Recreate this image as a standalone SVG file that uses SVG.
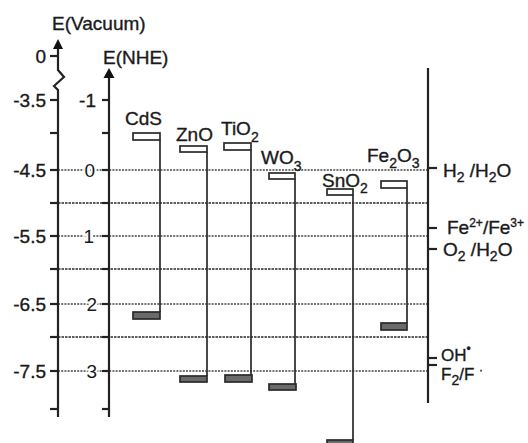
<svg xmlns="http://www.w3.org/2000/svg" width="528" height="443" viewBox="0 0 528 443">
<style>
  text { font-family: "Liberation Sans", Arial, sans-serif; font-size: 19px; fill: #1a1a1a; stroke: #1a1a1a; stroke-width: 0.35; }
  .sub { font-size: 14px; }
  .sup { font-size: 12px; }
  .ax { stroke: #222; stroke-width: 2.2; fill: none; }
  .tick { stroke: #222; stroke-width: 2.2; }
  .grid { stroke: #444; stroke-width: 1.4; stroke-dasharray: 2 1.2; fill: none; }
  .grid2 { stroke: #2a2a2a; stroke-width: 1.7; stroke-dasharray: 2.5 1; fill: none; }
  .cb { fill: #fff; stroke: #2a2a2a; stroke-width: 1.7; }
  .vb { fill: #6a6a6a; stroke: #2a2a2a; stroke-width: 1.7; }
  .conn { stroke: #2a2a2a; stroke-width: 1.7; fill: none; }
  .halo { stroke: #fff; stroke-width: 4; paint-order: stroke; }
  .arrow { fill: #111; }
  .small { font-size: 17px; }
</style>
<rect width="528" height="443" fill="#fff"/>

<g id="gridlines">
  <line class="grid" x1="58" y1="170" x2="428" y2="170"/>
  <line class="grid2" x1="58" y1="203" x2="428" y2="203"/>
  <line class="grid" x1="58" y1="236" x2="428" y2="236"/>
  <line class="grid2" x1="58" y1="269" x2="428" y2="269"/>
  <line class="grid" x1="58" y1="304" x2="428" y2="304"/>
  <line class="grid2" x1="58" y1="337" x2="428" y2="337"/>
  <line class="grid" x1="58" y1="371" x2="428" y2="371"/>
</g>

<g id="axis-vacuum">
  <path class="ax" d="M58,48 V70 L64,77 L54,86 L58,90 V417"/>
  <polygon class="arrow" points="58,39 53,49 63,49"/>
  <text x="52" y="30">E(Vacuum)</text>
  <g>
    <line class="tick" x1="50" y1="56" x2="58" y2="56"/>
    <line class="tick" x1="50" y1="100" x2="58" y2="100"/>
    <line class="tick" x1="50" y1="133" x2="58" y2="133"/>
    <line class="tick" x1="50" y1="170" x2="58" y2="170"/>
    <line class="tick" x1="50" y1="203" x2="58" y2="203"/>
    <line class="tick" x1="50" y1="236" x2="58" y2="236"/>
    <line class="tick" x1="50" y1="269" x2="58" y2="269"/>
    <line class="tick" x1="50" y1="304" x2="58" y2="304"/>
    <line class="tick" x1="50" y1="337" x2="58" y2="337"/>
    <line class="tick" x1="50" y1="371" x2="58" y2="371"/>
    <line class="tick" x1="50" y1="409" x2="58" y2="409"/>
  </g>
  <g text-anchor="end">
    <text x="46" y="63">0</text>
    <text x="46" y="107">-3.5</text>
    <text x="46" y="177">-4.5</text>
    <text x="46" y="243">-5.5</text>
    <text x="46" y="311">-6.5</text>
    <text x="46" y="378">-7.5</text>
  </g>
</g>

<g id="axis-nhe">
  <line class="ax" x1="109" y1="76" x2="109" y2="417"/>
  <polygon class="arrow" points="109,68 103.5,78 114.5,78"/>
  <text x="103" y="64">E(NHE)</text>
  <g>
    <line class="tick" x1="102" y1="100" x2="109" y2="100"/>
    <line class="tick" x1="102" y1="133" x2="109" y2="133"/>
    <line class="tick" x1="102" y1="170" x2="109" y2="170"/>
    <line class="tick" x1="102" y1="203" x2="109" y2="203"/>
    <line class="tick" x1="102" y1="236" x2="109" y2="236"/>
    <line class="tick" x1="102" y1="269" x2="109" y2="269"/>
    <line class="tick" x1="102" y1="304" x2="109" y2="304"/>
    <line class="tick" x1="102" y1="337" x2="109" y2="337"/>
    <line class="tick" x1="102" y1="371" x2="109" y2="371"/>
    <line class="tick" x1="102" y1="409" x2="109" y2="409"/>
  </g>
  <g text-anchor="end">
    <text x="96" y="107">-1</text>
    <text class="halo" x="95" y="177">0</text>
    <text class="halo" x="94" y="243">1</text>
    <text class="halo" x="97" y="311">2</text>
    <text class="halo" x="97" y="378">3</text>
  </g>
</g>

<g id="axis-redox">
  <line class="ax" x1="428" y1="68" x2="428" y2="403"/>
  <line class="tick" x1="428" y1="168" x2="437" y2="168"/>
  <line class="tick" x1="428" y1="228" x2="437" y2="228"/>
  <line class="tick" x1="428" y1="249" x2="437" y2="249"/>
  <line class="tick" x1="428" y1="358" x2="437" y2="358"/>
  <line class="tick" x1="428" y1="365" x2="437" y2="365"/>
</g>

<g id="redox-H2">
  <text x="443" y="177">H<tspan class="sub" dy="5">2</tspan><tspan dy="-5"> /H</tspan><tspan class="sub" dy="5">2</tspan><tspan dy="-5">O</tspan></text>
</g>
<g id="redox-Fe">
  <text x="447" y="234">Fe<tspan class="sup" dy="-7">2+</tspan><tspan dy="7">/Fe</tspan><tspan class="sup" dy="-7">3+</tspan></text>
</g>
<g id="redox-O2">
  <text x="443" y="256">O<tspan class="sub" dy="5">2</tspan><tspan dy="-5"> /H</tspan><tspan class="sub" dy="5">2</tspan><tspan dy="-5">O</tspan></text>
</g>
<g id="redox-OH">
  <text class="small" x="441" y="361">OH<tspan class="sup" dy="-8">•</tspan></text>
</g>
<g id="redox-F2">
  <text class="small" x="441" y="380">F<tspan class="sub" dy="5">2</tspan><tspan dy="-5">/F </tspan><tspan class="sup" dy="-6">·</tspan></text>
</g>

<g id="connectors">
  <line class="conn" x1="160" y1="140" x2="160" y2="312"/>
  <line class="conn" x1="207" y1="152" x2="207" y2="376"/>
  <line class="conn" x1="251" y1="150" x2="251" y2="375"/>
  <line class="conn" x1="295" y1="179" x2="295" y2="384"/>
  <line class="conn" x1="353" y1="195" x2="353" y2="440"/>
  <line class="conn" x1="407" y1="188" x2="407" y2="323"/>
</g>

<g id="CdS">
  <text x="125" y="125">CdS</text>
  <rect class="cb" x="133" y="133" width="27" height="7"/>
  <rect class="vb" x="133" y="312" width="27" height="7"/>
</g>
<g id="ZnO">
  <text x="176" y="141">ZnO</text>
  <rect class="cb" x="180" y="146" width="27" height="6"/>
  <rect class="vb" x="180" y="376" width="27" height="6"/>
</g>
<g id="TiO2">
  <text x="221" y="135">TiO<tspan class="sub" dy="7">2</tspan></text>
  <rect class="cb" x="224" y="143" width="27" height="7"/>
  <rect class="vb" x="225" y="375" width="27" height="7"/>
</g>
<g id="WO3">
  <text x="261" y="164">WO<tspan class="sub" dy="7">3</tspan></text>
  <rect class="cb" x="269" y="173" width="26" height="6"/>
  <rect class="vb" x="269" y="384" width="27" height="6"/>
</g>
<g id="SnO2">
  <rect class="cb" x="327" y="189" width="26" height="6"/>
  <text x="322" y="187">SnO<tspan class="sub" dy="6">2</tspan></text>
  <rect class="vb" x="327" y="440" width="26" height="7"/>
</g>
<g id="Fe2O3">
  <text x="367" y="162">Fe<tspan class="sub" dy="6">2</tspan><tspan dy="-6">O</tspan><tspan class="sub" dy="6">3</tspan></text>
  <rect class="cb" x="381" y="181" width="26" height="7"/>
  <rect class="vb" x="381" y="323" width="26" height="7"/>
</g>
</svg>
